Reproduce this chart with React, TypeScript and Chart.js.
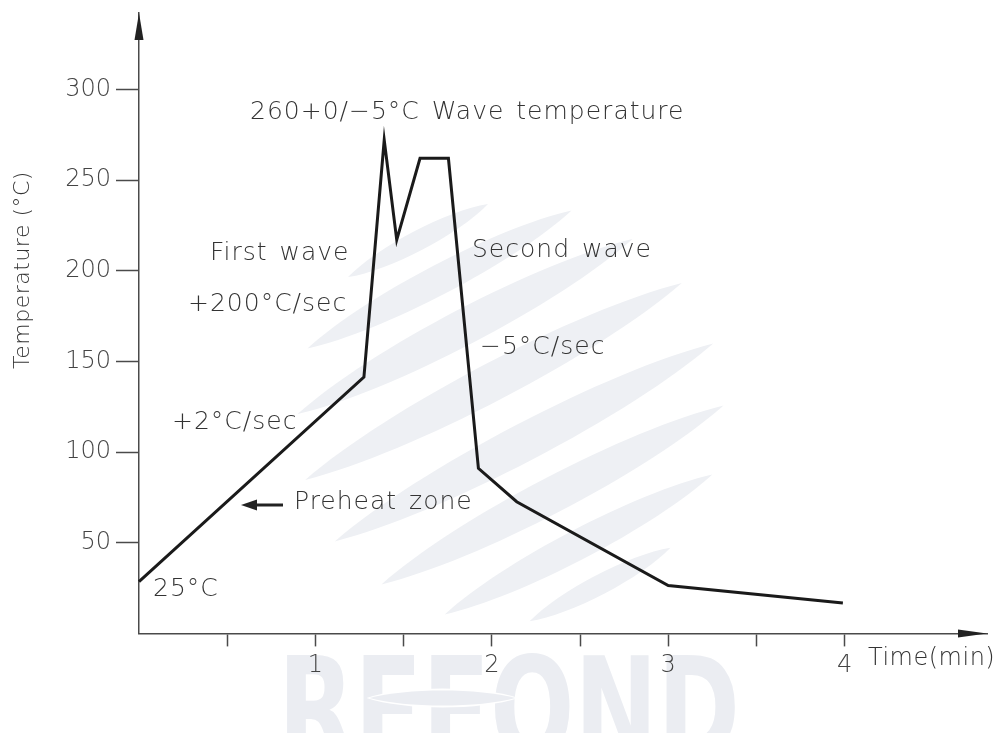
import React, { useEffect, useRef } from 'react';
import { Chart, registerables } from 'chart.js';

Chart.register(...registerables);

// ---- data ----
const TIME_MIN = [0, 1.275, 1.39, 1.461, 1.593, 1.754, 1.924, 2.141, 3.0, 3.99];
const TEMP_C = [28.5, 141.3, 272, 217, 262, 262, 91, 72.6, 26.4, 16.8];
const Y_TICKS = [50, 100, 150, 200, 250, 300];
const X_TICKS = [0.5, 1, 1.5, 2, 2.5, 3, 3.5, 4];
const X_TICK_LABELS = ['', '1', '', '2', '', '3', '', '4'];
const Y_TITLE = 'Temperature (°C)';
const X_TITLE = 'Time(min)';
const NOTES = [
  '260+0/−5°C Wave temperature',
  'First wave',
  'Second wave',
  '+200°C/sec',
  '−5°C/sec',
  '+2°C/sec',
  'Preheat zone',
  '25°C',
];
const WATERMARK = 'REFOND';

// ---- layout / style ----
const W = 1005;
const H = 733;
const X_MAX = 4.807;
const Y_MAX = 342.1;
const NOTE_POS = [
  [250, 112],
  [210, 253],
  [472, 250],
  [188, 304],
  [480, 347],
  [172, 422],
  [294, 502],
  [153, 589],
];
const ELLIPSES = [
  [418, 240.5, 158, 10],
  [439.5, 279.5, 298, 15],
  [465, 326.5, 378, 18],
  [493.5, 381.5, 425, 19],
  [524, 442.5, 427, 19],
  [552.5, 495, 386, 18],
  [578.5, 544.5, 302, 15],
  [600, 584.5, 159, 10],
];
const ELLIPSE_ANGLE = (-27.6 * Math.PI) / 180;
const ELLIPSE_COLOR = '#eef0f4';
const WM_COLOR = '#ebedf2';
const TEXT_COLOR = '#333333';
const AXIS_COLOR = '#4a4a4a';
const FAMILY = '"DejaVu Sans", sans-serif';
const WEIGHT = '200';

function lens(ctx: CanvasRenderingContext2D, cx: number, cy: number, len: number, half: number, ang: number) {
  const a = len / 2;
  const t = half / 0.75;
  ctx.save();
  ctx.translate(cx, cy);
  ctx.rotate(ang);
  ctx.beginPath();
  ctx.moveTo(-a, 0);
  ctx.bezierCurveTo(-a * 0.5, -t, a * 0.5, -t, a, 0);
  ctx.bezierCurveTo(a * 0.5, t, -a * 0.5, t, -a, 0);
  ctx.closePath();
  ctx.fill();
  ctx.restore();
}

const decorPlugin = {
  id: 'decor',
  beforeDraw(chart: any) {
    const ctx: CanvasRenderingContext2D = chart.ctx;
    ctx.save();
    ctx.fillStyle = '#ffffff';
    ctx.fillRect(0, 0, chart.width, chart.height);
    ctx.fillStyle = ELLIPSE_COLOR;
    for (const [cx, cy, len, half] of ELLIPSES) lens(ctx, cx, cy, len, half, ELLIPSE_ANGLE);
    // watermark
    ctx.fillStyle = WM_COLOR;
    ctx.font = 'bold 140px "DejaVu Sans Condensed", "DejaVu Sans", sans-serif';
    ctx.textBaseline = 'alphabetic';
    ctx.textAlign = 'left';
    const m = ctx.measureText(WATERMARK);
    const sx = 462 / m.width;
    const base = 653 + m.actualBoundingBoxAscent;
    ctx.save();
    ctx.translate(278, base);
    ctx.scale(sx, 1);
    ctx.fillText(WATERMARK, 0, 0);
    ctx.restore();
    ctx.fillStyle = '#ffffff';
    lens(ctx, 442.5, 698, 152, 9.5, 0);
    ctx.fillStyle = WM_COLOR;
    lens(ctx, 442.5, 698, 146, 7.5, 0);
    ctx.restore();
  },
  afterDraw(chart: any) {
    const ctx: CanvasRenderingContext2D = chart.ctx;
    const xs = chart.scales.x;
    const ys = chart.scales.y;
    const ax = xs.getPixelForValue(0);
    const ay = ys.getPixelForValue(0);
    ctx.save();
    ctx.fillStyle = '#222';
    // y arrow
    ctx.beginPath();
    ctx.moveTo(ax, chart.chartArea.top);
    ctx.lineTo(ax - 4.5, chart.chartArea.top + 27);
    ctx.lineTo(ax + 4.5, chart.chartArea.top + 27);
    ctx.closePath();
    ctx.fill();
    // x arrow
    ctx.beginPath();
    ctx.moveTo(chart.chartArea.right, ay);
    ctx.lineTo(chart.chartArea.right - 29, ay - 4);
    ctx.lineTo(chart.chartArea.right - 29, ay + 4);
    ctx.closePath();
    ctx.fill();
    // preheat arrow
    ctx.strokeStyle = '#222';
    ctx.lineWidth = 3;
    ctx.beginPath();
    ctx.moveTo(254, 505);
    ctx.lineTo(283, 505);
    ctx.stroke();
    ctx.beginPath();
    ctx.moveTo(241, 505);
    ctx.lineTo(257, 499.5);
    ctx.lineTo(257, 510.5);
    ctx.closePath();
    ctx.fill();

    // notes
    ctx.fillStyle = TEXT_COLOR;
    ctx.textBaseline = 'middle';
    ctx.textAlign = 'left';
    ctx.font = `${WEIGHT} 25px ${FAMILY}`;
    (ctx as any).letterSpacing = '1px';
    (ctx as any).wordSpacing = '3px';
    NOTES.forEach((t, i) => {
      const [x, y] = NOTE_POS[i];
      ctx.fillText(t, x, y);
    });
    (ctx as any).wordSpacing = '0px';
    // x title
    ctx.font = `${WEIGHT} 24px ${FAMILY}`;
    (ctx as any).letterSpacing = '0.5px';
    ctx.fillText(X_TITLE, 868, 659);
    // y title
    ctx.save();
    ctx.translate(23, 270);
    ctx.rotate(-Math.PI / 2);
    ctx.textAlign = 'center';
    ctx.font = `${WEIGHT} 22px ${FAMILY}`;
    ctx.fillText(Y_TITLE, 0, 0);
    ctx.restore();
    ctx.restore();
  },
};

export default function App() {
  const ref = useRef<HTMLCanvasElement | null>(null);
  useEffect(() => {
    document.body.style.margin = '0';
    const canvas = ref.current;
    if (!canvas) return;
    const chart = new Chart(canvas, {
      type: 'line',
      data: {
        datasets: [
          {
            data: TIME_MIN.map((t, i) => ({ x: t, y: TEMP_C[i] })),
            borderColor: '#1a1a1a',
            borderWidth: 3,
            pointRadius: 0,
            tension: 0,
            fill: false,
            clip: false as any,
          },
        ],
      },
      options: {
        responsive: false,
        animation: false,
        devicePixelRatio: 1,
        layout: { padding: { top: 13, right: 18, left: 0, bottom: 0 } },
        plugins: { legend: { display: false }, tooltip: { enabled: false } },
        scales: {
          x: {
            type: 'linear',
            min: 0,
            max: X_MAX,
            afterFit: (s: any) => {
              s.height = H - 633.4;
              s.paddingLeft = 0;
              s.paddingRight = 0;
            },
            afterBuildTicks: (s: any) => {
              s.ticks = X_TICKS.map((v) => ({ value: v }));
            },
            ticks: {
              autoSkip: false,
              maxRotation: 0,
              padding: 5,
              color: '#444',
              font: { family: 'DejaVu Sans', size: 24, weight: WEIGHT as any },
              callback: (v: any) => {
                const i = X_TICKS.indexOf(Number(v));
                return i >= 0 ? X_TICK_LABELS[i] : '';
              },
            },
            grid: {
              drawOnChartArea: false,
              drawTicks: true,
              tickLength: 13,
              tickColor: AXIS_COLOR,
              tickWidth: 1.5,
            },
            border: { display: true, color: AXIS_COLOR, width: 1.5 },
          },
          y: {
            type: 'linear',
            min: 0,
            max: Y_MAX,
            afterFit: (s: any) => {
              s.width = 139;
              s.paddingTop = 0;
              s.paddingBottom = 0;
            },
            afterBuildTicks: (s: any) => {
              s.ticks = Y_TICKS.map((v) => ({ value: v }));
            },
            ticks: {
              autoSkip: false,
              padding: 5,
              color: '#444',
              font: { family: 'DejaVu Sans', size: 24, weight: WEIGHT as any },
            },
            grid: {
              drawOnChartArea: false,
              drawTicks: true,
              tickLength: 23,
              tickColor: AXIS_COLOR,
              tickWidth: 1.5,
            },
            border: { display: true, color: AXIS_COLOR, width: 1.5 },
          },
        },
      },
      plugins: [decorPlugin],
    });
    return () => chart.destroy();
  }, []);
  return (
    <div style={{ position: 'absolute', left: 0, top: 0, width: W, height: H }}>
      <canvas ref={ref} width={W} height={H} style={{ width: W, height: H, display: 'block' }} />
    </div>
  );
}
